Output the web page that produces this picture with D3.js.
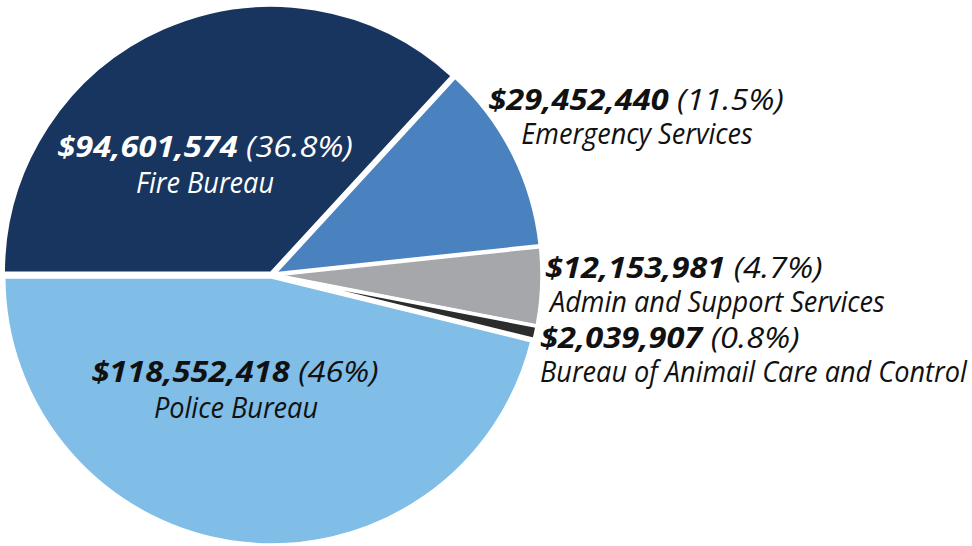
<!DOCTYPE html>
<html>
<head>
<meta charset="utf-8">
<script src="https://cdn.jsdelivr.net/npm/d3@7"></script>
<style>
  body { margin: 0; background: #fff; }
  text { font-family: "Open Sans", "Noto Sans", sans-serif; font-style: italic; }
</style>
</head>
<body>
<div id="chart"></div>
<script>
// budget by bureau
let names = ["Fire Bureau", "Emergency Services", "Admin and Support Services", "Bureau of Animail Care and Control", "Police Bureau"];
let amounts = [94601574, 29452440, 12153981, 2039907, 118552418];
let pctLabels = ["36.8%", "11.5%", "4.7%", "0.8%", "46%"];
let colors = ["#18355f", "#4a82c0", "#a6a7ab", "#2a2d2b", "#80bde7"];

var width = 972, height = 546;
var cx = 272, cy = 275, radius = 268;

var svg = d3.select("#chart")
  .append("svg")
  .attr("width", width)
  .attr("height", height);

var data = amounts.map((v, i) => ({ name: names[i], value: v, pct: pctLabels[i], color: colors[i] }));

var pie = d3.pie()
  .sort(null)
  .value(d => d.value)
  .startAngle(-Math.PI / 2)
  .endAngle(Math.PI * 1.5);

var arc = d3.arc()
  .innerRadius(0)
  .outerRadius(radius);

var arcs = pie(data);

// pull each slice out a little
var explode = 2;

var g = svg.append("g")
  .attr("transform", "translate(" + cx + "," + cy + ")");

g.selectAll(".slice")
  .data(arcs)
  .enter()
  .append("path")
  .attr("class", "slice")
  .attr("d", arc)
  .attr("transform", function(d) {
    var a = (d.startAngle + d.endAngle) / 2;
    return "translate(" + (Math.sin(a) * explode) + "," + (-Math.cos(a) * explode) + ")";
  })
  .style("fill", d => d.data.color)
  .style("stroke", "#fff")
  .style("stroke-width", 3.5)
  .style("stroke-linejoin", "miter");

// label placement: [x line1, x line2, y of first baseline, line gap, anchor, text color]
var labelPos = [
  [205, 205, 157, 36, "middle", "#fff"],
  [636, 637, 110, 34, "middle", "#111"],
  [545, 550, 278, 34, "start", "#111"],
  [540, 540, 348, 34, "start", "#111"],
  [235, 236, 382, 36, "middle", "#111"]
];
var fontSize = 29;

// squeeze the font horizontally to mimic the condensed original
function measure(txt, bold) {
  var t = svg.append("text")
    .style("font-size", fontSize + "px")
    .style("font-weight", bold ? "bold" : "normal")
    .text(txt);
  var w = t.node().getComputedTextLength();
  t.remove();
  return w;
}
var sxName = 427 / measure("Bureau of Animail Care and Control", false);
var sxAmt = 287 / (measure("$29,452,440", true) + measure(" (11.5%)", false));

var labels = svg.selectAll(".label")
  .data(arcs)
  .enter()
  .append("g")
  .attr("class", "label");

var line1 = labels.append("text")
  .attr("transform", (d, i) => "translate(" + labelPos[i][0] + "," + labelPos[i][2] + ") scale(" + sxAmt + ",1)")
  .attr("text-anchor", (d, i) => labelPos[i][4])
  .style("font-size", fontSize + "px")
  .style("fill", (d, i) => labelPos[i][5]);
line1.append("tspan")
  .style("font-weight", "bold")
  .text(d => "$" + d3.format(",")(d.data.value));
line1.append("tspan")
  .text(d => " (" + d.data.pct + ")");

labels.append("text")
  .attr("transform", (d, i) => "translate(" + labelPos[i][1] + "," + (labelPos[i][2] + labelPos[i][3]) + ") scale(" + sxName + ",1)")
  .attr("text-anchor", (d, i) => labelPos[i][4])
  .style("font-size", fontSize + "px")
  .style("fill", (d, i) => labelPos[i][5])
  .text(d => d.data.name);
</script>
</body>
</html>
